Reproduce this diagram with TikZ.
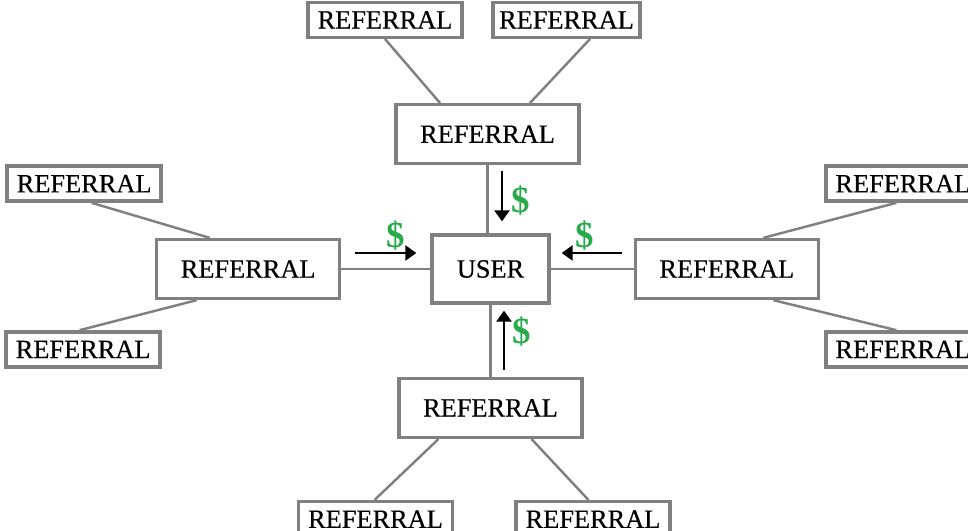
\documentclass[tikz,border=0pt]{standalone}
\usepackage{fontspec}
\setmainfont{Liberation Serif}
\newfontfamily\labelfont{Liberation Serif}[FakeBold=0.4]
\usetikzlibrary{arrows.meta, positioning}
\definecolor{boxgray}{RGB}{128,128,128}
\definecolor{cashgreen}{RGB}{38,170,74}

\begin{document}
\begin{tikzpicture}[node distance=1.4cm and 1.7cm]
    \tikzset{
        userbox/.style = {rectangle, draw=boxgray, line width=1.9pt, minimum width=2.34cm, minimum height=1.36cm, font=\labelfont\fontsize{15}{16}\selectfont},
        refbox/.style = {rectangle, draw=boxgray, line width=1.9pt, minimum width=3.66cm, minimum height=1.18cm, font=\labelfont\fontsize{15}{16}\selectfont},
        subbox/.style = {rectangle, draw=boxgray, line width=1.9pt, minimum width=3.08cm, minimum height=0.7cm, inner sep=1pt, font=\labelfont\fontsize{15}{16}\selectfont},
        link/.style = {draw=boxgray, line width=1.4pt},
        flow/.style = {draw, line width=1.5pt, -{Triangle[length=0.22cm, width=0.3cm]}},
        cash/.style = {text=cashgreen, font=\fontsize{21}{21}\selectfont\bfseries, inner sep=1pt}
    }
    \useasboundingbox (-9.81,-5.24) rectangle (9.55,5.38);

    % centre and the four first referrals
    \node[userbox] (user) {USER};
    \node[refbox, above=1.36cm of user, xshift=-0.06cm] (refN) {REFERRAL};
    \node[refbox, left=1.78cm of user] (refW) {REFERRAL};
    \node[refbox, right=1.66cm of user] (refE) {REFERRAL};
    \node[refbox, below=1.44cm of user] (refS) {REFERRAL};

    % second level referrals
    \node[subbox, above=1.28cm of refN, xshift=-2.05cm] (subNW) {REFERRAL};
    \node[subbox, above=1.28cm of refN, xshift=1.58cm, minimum width=2.94cm] (subNE) {REFERRAL};
    \node[subbox, above=0.7cm of refW, xshift=-3.28cm] (subWN) {REFERRAL};
    \node[subbox, below=0.6cm of refW, xshift=-3.3cm] (subWS) {REFERRAL};
    \node[subbox, above=0.7cm of refE, xshift=3.52cm] (subEN) {REFERRAL};
    \node[subbox, below=0.6cm of refE, xshift=3.52cm] (subES) {REFERRAL};
    \node[subbox, below=1.22cm of refS, xshift=-2.3cm] (subSW) {REFERRAL};
    \node[subbox, below=1.22cm of refS, xshift=2.05cm] (subSE) {REFERRAL};

    \path[link] (refN.south) -- (refN.south |- user.north);
    \path[link] (refS.north) -- (refS.north |- user.south);
    \path[link] (refW.east) -- (refW.east -| user.west);
    \path[link] (refE.west) -- (refE.west -| user.east);

    \path[link] (subNW.south) -- ([xshift=-0.95cm]refN.north);
    \path[link] ([xshift=0.47cm]subNE.south) -- ([xshift=0.85cm]refN.north);
    \path[link] ([xshift=0.15cm]subWN.south) -- ([xshift=-0.77cm]refW.north);
    \path[link] ([xshift=-0.07cm]subWS.north) -- ([xshift=-1.03cm]refW.south);
    \path[link] ([xshift=-0.13cm]subEN.south) -- ([xshift=0.73cm]refE.north);
    \path[link] ([xshift=-0.13cm]subES.north) -- ([xshift=0.93cm]refE.south);
    \path[link] ([xshift=-0.02cm]subSW.north) -- ([xshift=-1.04cm]refS.south);
    \path[link] ([xshift=-0.09cm]subSE.north) -- ([xshift=0.82cm]refS.south);

    % money flowing in
    \coordinate (inN) at ([xshift=0.23cm, yshift=1.24cm]user.north);
    \coordinate (tipN) at ([xshift=0.23cm, yshift=0.24cm]user.north);
    \coordinate (inS) at ([xshift=0.27cm, yshift=-1.3cm]user.south);
    \coordinate (tipS) at ([xshift=0.27cm, yshift=-0.12cm]user.south);
    \coordinate (inW) at ([xshift=-1.5cm, yshift=0.32cm]user.west);
    \coordinate (tipW) at ([xshift=-0.28cm, yshift=0.32cm]user.west);
    \coordinate (inE) at ([xshift=1.42cm, yshift=0.32cm]user.east);
    \coordinate (tipE) at ([xshift=0.22cm, yshift=0.32cm]user.east);

    \path[flow] (inN) -- node[cash, right, xshift=0.12cm, yshift=-0.08cm] (cashN) {\$} (tipN);
    \path[flow] (inS) -- node[cash, right, xshift=0.1cm, yshift=0.17cm] (cashS) {\$} (tipS);
    \path[flow] (inW) -- node[cash, above, xshift=0.19cm] (cashW) {\$} (tipW);
    \path[flow] (inE) -- node[cash, above, xshift=-0.14cm] (cashE) {\$} (tipE);
\end{tikzpicture}
\end{document}
